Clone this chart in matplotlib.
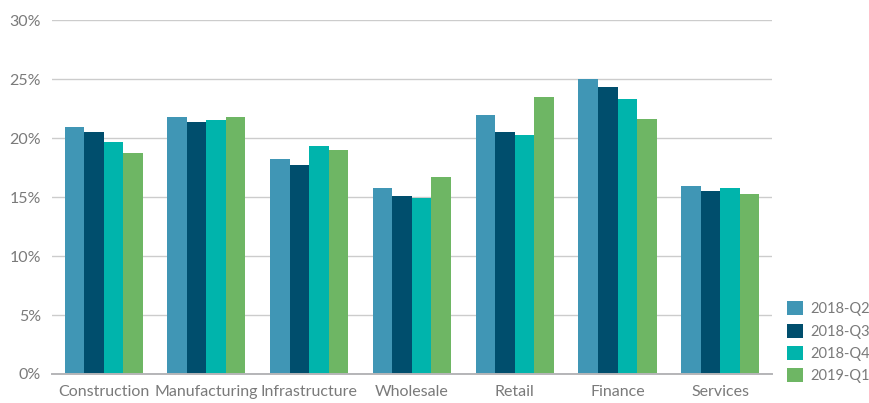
import matplotlib

matplotlib.use("Agg")
import matplotlib.pyplot as plt
from matplotlib.ticker import FuncFormatter
import numpy as np

plt.rcParams["font.family"] = ["Lato", "DejaVu Sans"]

sectors = ["Construction", "Manufacturing", "Infrastructure", "Wholesale",
           "Retail", "Finance", "Services"]
quarters = ["2018-Q2", "2018-Q3", "2018-Q4", "2019-Q1"]
q2_2018 = [20.9, 21.75, 18.2, 15.75, 22.0, 25.05, 15.9]
q3_2018 = [20.55, 21.4, 17.7, 15.05, 20.55, 24.3, 15.55]
q4_2018 = [19.7, 21.5, 19.3, 14.95, 20.3, 23.35, 15.75]
q1_2019 = [18.7, 21.75, 18.95, 16.7, 23.5, 21.6, 15.3]
colors = ["#4096b5", "#004e6d", "#00b4ac", "#6eb664"]

series = [q2_2018, q3_2018, q4_2018, q1_2019]
text_color = "#7a7a7a"

fig = plt.figure(figsize=(8.7, 4.03), dpi=100)
ax = fig.add_axes([0.06, 0.072, 0.827, 0.878])

x = np.arange(len(sectors))
width = 0.19
for i, (vals, label, color) in enumerate(zip(series, quarters, colors)):
    ax.bar(x + (i - 1.5) * width, vals, width, color=color, label=label, zorder=3)

ax.set_xlim(-0.5, len(sectors) - 0.5)
ax.set_ylim(0, 30)
ax.set_yticks(np.arange(0, 31, 5))
ax.yaxis.set_major_formatter(FuncFormatter(lambda v, _: f"{v:.0f}%"))
ax.set_xticks(x)
ax.set_xticklabels(sectors)
ax.grid(axis="y", color="#cccccc", linewidth=1.0, zorder=0)
for side in ("top", "right", "left"):
    ax.spines[side].set_visible(False)
ax.spines["bottom"].set_color("#b5b5b8")
ax.spines["bottom"].set_linewidth(1.4)
ax.spines["bottom"].set_zorder(4)
ax.tick_params(axis="both", length=0, labelsize=11.5, colors=text_color)
ax.tick_params(axis="x", pad=8)
ax.tick_params(axis="y", pad=8)

ax.legend(loc="lower left", bbox_to_anchor=(0.898, 0.035), bbox_transform=fig.transFigure,
          frameon=False, fontsize=10.5, labelcolor=text_color,
          handlelength=1.1, handleheight=1.1, handletextpad=0.5, labelspacing=0.5,
          borderaxespad=0)

fig.savefig("out.png", dpi=100)
